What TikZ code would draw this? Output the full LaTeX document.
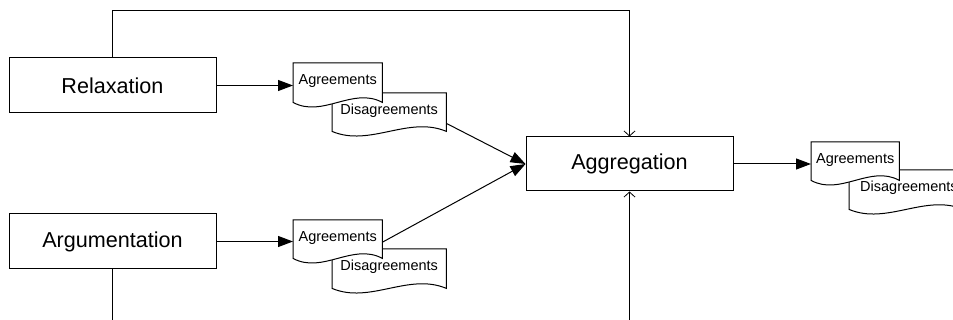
\documentclass[tikz,border=0pt]{standalone}
\usepackage{fontspec}
\setmainfont{Liberation Sans}
\usetikzlibrary{arrows.meta,calc}

\tikzset{
  procbox/.style={draw=black, line width=1pt, fill=white, minimum width=207pt,
    minimum height=55pt, inner sep=0pt,
    font=\fontsize{21.6}{26}\selectfont},
  docnode/.style={draw=none, inner sep=0pt, anchor=north west},
  docline/.style={draw=black, line width=1pt, fill=white},
  doctext/.style={font=\fontsize{14.5}{17}\selectfont, inner sep=0pt},
  flow/.style={line width=1pt, -{Triangle[length=15pt,width=11pt]}},
  feed/.style={line width=0.9pt, -{Straight Barb[length=5pt,width=11pt,line width=0.8pt]}},
  plain/.style={line width=0.9pt}
}

% document symbol: name, left x, top y, width, side height
\newcommand\docshape[5]{%
  \node[docnode, minimum width=#4pt, minimum height=#5pt] (#1) at (#2,#3) {};
  \draw[docline] (#1.south west) -- (#1.north west) -- (#1.north east) -- (#1.south east)
    .. controls ($(#1.south east)+(-#4/3,-16)$) and ($(#1.south west)+(#4/3,16)$)
    .. (#1.south west) -- cycle;
}
\newcommand\doclabel[2]{\node[doctext] at ($(#1.center)+(0,-1.5)$) {#2};}

\begin{document}
\begin{tikzpicture}[x=1pt,y=-1pt]
  \useasboundingbox (0,0) rectangle (953,320);
  \clip (0,0) rectangle (953,320);

  % processes
  \node[procbox] (rel) at (112.5,85.5) {Relaxation};
  \node[procbox] (arg) at (112.5,241.5) {Argumentation};
  \node[procbox, minimum height=54pt] (agg) at (629.5,164) {Aggregation};

  % documents (Disagreements behind Agreements)
  \docshape{d1}{332}{93}{114}{38}
  \docshape{a1}{293}{63}{89}{39}
  \docshape{d2}{332}{249}{114}{39}
  \docshape{a2}{293}{220}{89}{38}
  \docshape{d3}{849}{170}{114}{39}
  \docshape{a3}{811}{142}{88}{38}

  \doclabel{a1}{Agreements}
  \doclabel{d1}{Disagreements}
  \doclabel{a2}{Agreements}
  \doclabel{d2}{Disagreements}
  \doclabel{a3}{Agreements}
  \node[doctext, anchor=west] at ($(d3.west)+(11,-1.5)$) {Disagreements};

  % flows
  \draw[flow] (rel.east) -- (rel.east -| a1.west);
  \draw[flow] (arg.east) -- (arg.east -| a2.west);
  \coordinate (d1out) at ($(d1.south east)+(0,-8)$);
  \coordinate (a2out) at ($(a2.east)+(0,3)$);
  \draw[flow] (d1out) -- (agg.west);
  \draw[flow] (a2out) -- (agg.west);
  \draw[flow] (agg.east) -- (agg.east -| a3.west);

  % feedback lines
  \coordinate (topturn) at (112.5,10);
  \draw[feed] (rel.north) -- (topturn) -| (agg.north);
  \coordinate (argexit) at (112.5,322);
  \draw[plain] (arg.south) -- (argexit);
  \coordinate (aggentry) at (629.5,322);
  \draw[feed] (aggentry) -- (agg.south);
\end{tikzpicture}
\end{document}
